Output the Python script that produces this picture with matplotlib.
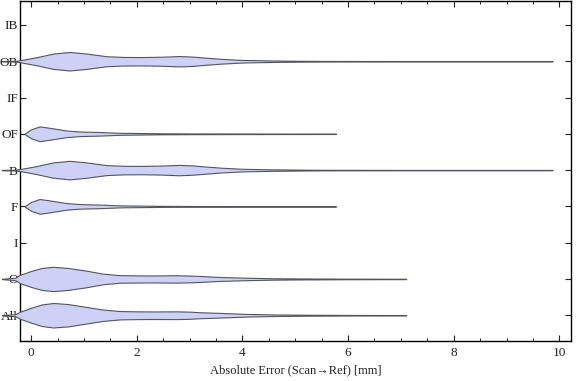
import matplotlib.pyplot as plt
import numpy as np
from matplotlib.ticker import MultipleLocator

plt.rcParams['font.family'] = ['Liberation Serif', 'DejaVu Serif']

categories = ["All", "O", "I", "F", "B", "OF", "IF", "OB", "IB"]

# violin outlines: error [mm] and half width (px, one row = 36.4 px)
all_x = [-0.55, -0.3, -0.21, 0.0, 0.2, 0.42, 0.7, 1.05, 1.36, 1.68, 2.0, 2.31, 2.75, 3.0, 3.2, 3.6, 4.1, 4.6, 5.1, 6.0, 7.1]
all_w = [0.2, 1.0, 3.5, 7.5, 10.8, 12.3, 11.2, 8.3, 5.7, 4.2, 3.9, 3.8, 3.9, 3.6, 3.0, 2.3, 1.3, 0.8, 0.5, 0.3, 0.2]

o_x = [-0.55, -0.3, -0.21, 0.0, 0.2, 0.42, 0.7, 1.05, 1.36, 1.68, 2.0, 2.31, 2.75, 3.0, 3.2, 3.57, 4.1, 4.6, 5.1, 6.0, 7.1]
o_w = [0.2, 1.2, 4.2, 8.0, 11.0, 12.2, 11.0, 8.3, 5.3, 3.8, 3.6, 3.5, 3.7, 3.4, 3.0, 2.0, 1.2, 0.7, 0.5, 0.3, 0.2]

f_x = [-0.12, 0.0, 0.16, 0.35, 0.67, 0.92, 1.3, 1.68, 2.0, 2.5, 3.0, 4.0, 5.0, 5.77]
f_w = [0.3, 4.5, 7.4, 6.0, 3.3, 2.3, 1.8, 1.0, 0.8, 0.5, 0.4, 0.3, 0.25, 0.2]

b_x = [-0.55, -0.3, -0.21, 0.1, 0.42, 0.73, 1.05, 1.43, 1.75, 2.1, 2.45, 2.8, 3.05, 3.3, 3.6, 4.0, 4.5, 5.0, 5.5, 7.0, 9.87]
b_w = [0.2, 0.4, 1.0, 4.0, 7.7, 9.3, 7.7, 5.0, 4.3, 4.2, 4.5, 5.2, 4.7, 3.6, 2.4, 1.3, 0.8, 0.5, 0.3, 0.2, 0.2]

profiles = {
    "All": (all_x, all_w),
    "O": (o_x, o_w),
    "F": (f_x, f_w),
    "B": (b_x, b_w),
    "OF": (f_x, f_w),
    "OB": (b_x, b_w),
}

row_px = 36.4
fill = (0.80, 0.82, 0.96)
edge = (0.33, 0.33, 0.38)

fig = plt.figure(figsize=(5.76, 3.81), dpi=100)
ax = fig.add_axes([20 / 576, 1 - 341 / 381, 551 / 576, 340 / 381])

for i, cat in enumerate(categories, start=1):
    if cat not in profiles:
        continue
    x, w = profiles[cat]
    w = np.array(w) / row_px
    ax.fill_between(x, i - w, i + w, facecolor=fill, edgecolor=edge,
                    linewidth=0.8, clip_on=False, zorder=3)

ax.set_xlim(-0.21, 10.22)
ax.set_ylim(0.29, 9.66)
ax.set_yticks(range(1, len(categories) + 1))
ax.set_yticklabels(categories)
ax.set_xticks([0, 2, 4, 6, 8, 10])
ax.xaxis.set_minor_locator(MultipleLocator(0.5))

ax.tick_params(axis='both', which='major', direction='in', length=4, width=0.8,
               top=True, right=True, labelsize=9.5, colors='#222222')
ax.tick_params(axis='x', which='minor', direction='in', length=2, width=0.6, top=True)
ax.tick_params(axis='x', which='major', pad=4)
ax.tick_params(axis='y', which='major', pad=1.5)

for s in ax.spines.values():
    s.set_linewidth(1.0)
    s.set_color('black')

ax.set_xlabel("Absolute Error (Scan\u2192Ref) [mm]", fontsize=9, color='#222222', labelpad=4)

fig.savefig("out.png", dpi=100)
